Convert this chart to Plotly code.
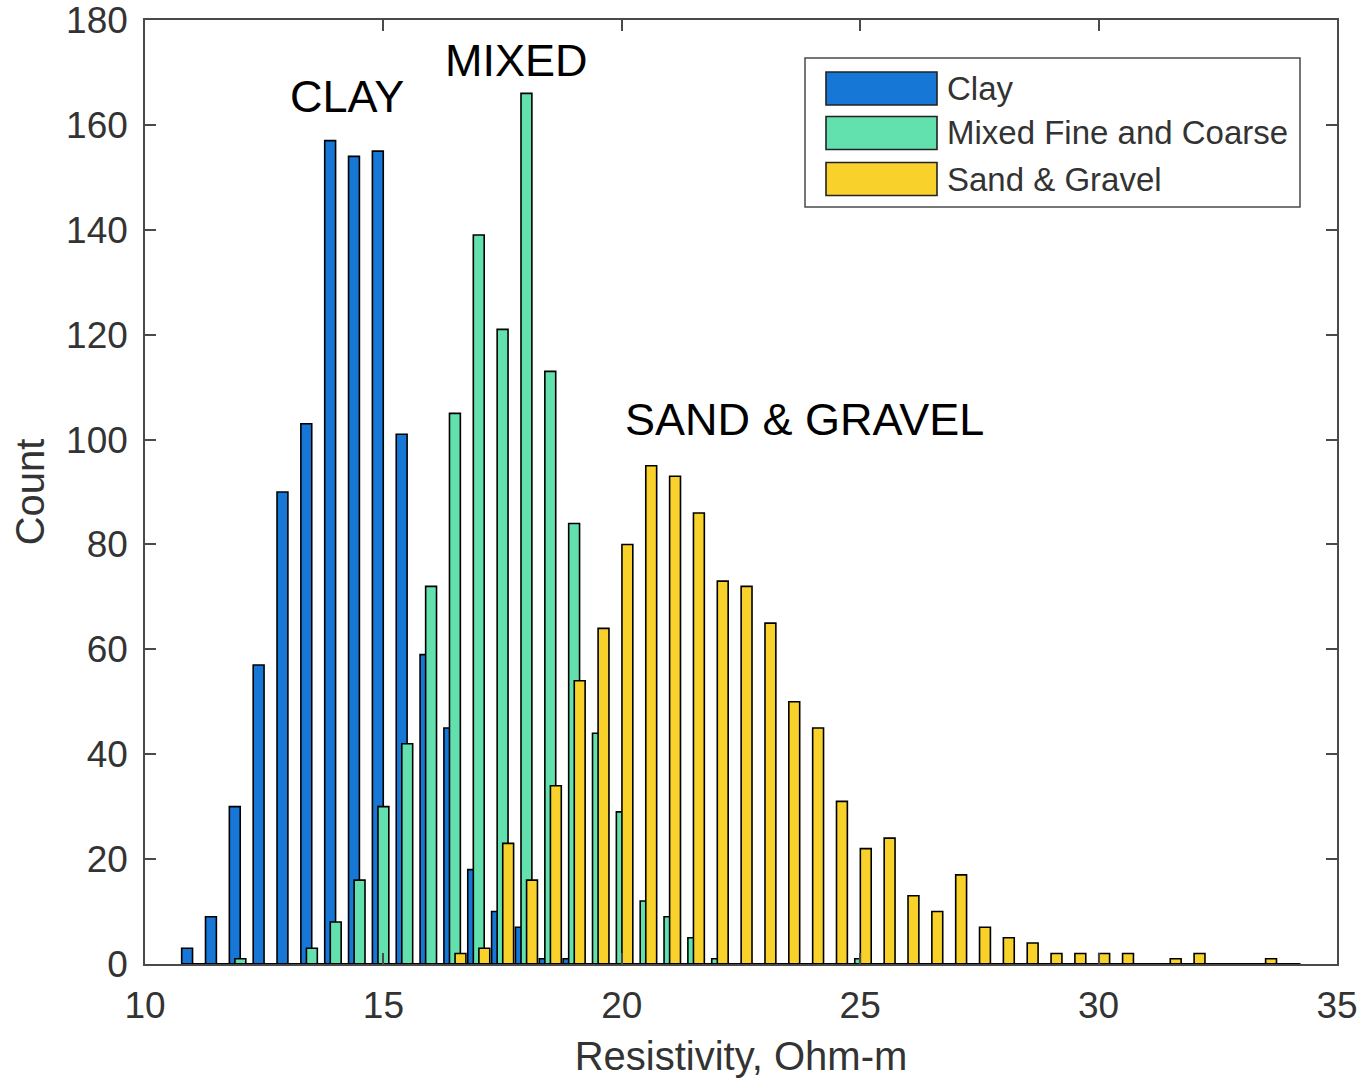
import plotly.graph_objects as go

# ---------------- data ----------------
bin_centers = [11.0, 11.5, 12.0, 12.5, 13.0, 13.5, 14.0, 14.5, 15.0, 15.5,
               16.0, 16.5, 17.0, 17.5, 18.0, 18.5, 19.0, 19.5, 20.0, 20.5,
               21.0, 21.5, 22.0, 22.5, 23.0, 23.5, 24.0, 24.5, 25.0, 25.5,
               26.0, 26.5, 27.0, 27.5, 28.0, 28.5, 29.0, 29.5, 30.0, 30.5,
               31.0, 31.5, 32.0, 32.5, 33.0, 33.5, 34.0]

clay_counts = [3, 9, 30, 57, 90, 103, 157, 154, 155, 101,
               59, 45, 18, 10, 7, 1, 1, 0, 0, 0,
               0, 0, 0, 0, 0, 0, 0, 0, 0, 0,
               0, 0, 0, 0, 0, 0, 0, 0, 0, 0,
               0, 0, 0, 0, 0, 0, 0]

mixed_counts = [0, 0, 1, 0, 0, 3, 8, 16, 30, 42,
                72, 105, 139, 121, 166, 113, 84, 44, 29, 12,
                9, 5, 1, 0, 0, 0, 0, 0, 1, 0,
                0, 0, 0, 0, 0, 0, 0, 0, 0, 0,
                0, 0, 0, 0, 0, 0, 0]

sand_counts = [0, 0, 0, 0, 0, 0, 0, 0, 0, 0,
               0, 2, 3, 23, 16, 34, 54, 64, 80, 95,
               93, 86, 73, 72, 65, 50, 45, 31, 22, 24,
               13, 10, 17, 7, 5, 4, 2, 2, 2, 2,
               0, 1, 2, 0, 0, 1, 0]

series_names = ["Clay", "Mixed Fine and Coarse", "Sand & Gravel"]
series_counts = [clay_counts, mixed_counts, sand_counts]

x_ticks = [10, 15, 20, 25, 30, 35]
y_ticks = [0, 20, 40, 60, 80, 100, 120, 140, 160, 180]

region_labels = ["CLAY", "MIXED", "SAND & GRAVEL"]

x_title = "Resistivity, Ohm-m"
y_title = "Count"

# ---------------- style ----------------
series_colors = ["#1677d6", "#62e0ad", "#f8d22b"]
series_shift = [-0.117, 0.0, 0.117]
bar_width = 0.228
region_label_pos = [(14.24, 165.5), (17.80, 172.2), (23.84, 103.9)]

FONT = "Liberation Sans, Arial, Helvetica, sans-serif"
AX = "#4a4a4a"
TXT = "#333333"

W, H = 1363, 1081
PL, PR, PT, PB = 145, 1337, 20, 964   # plot area in pixels


def px_x(p):
    return (p - PL) / (PR - PL)


def px_y(p):
    return (PB - p) / (PB - PT)


fig = go.Figure()

# baseline of zero-height bars (MATLAB draws their edges)
x_lo = bin_centers[0] + series_shift[0] - bar_width / 2
x_hi = bin_centers[-1] + series_shift[-1] + bar_width / 2
fig.add_trace(go.Scatter(x=[x_lo, x_hi], y=[0, 0], mode="lines",
                         line=dict(color="black", width=2),
                         showlegend=False, hoverinfo="skip"))

for name, counts, color, shift in zip(series_names, series_counts,
                                      series_colors, series_shift):
    fig.add_trace(go.Bar(
        x=bin_centers, y=counts, name=name,
        width=bar_width, offset=shift - bar_width / 2,
        marker=dict(color=color, line=dict(color="black", width=1.6)),
        showlegend=False,
    ))

# region labels
for text, (lx, ly) in zip(region_labels, region_label_pos):
    fig.add_annotation(x=lx, y=ly, xref="x", yref="y", text=text,
                       showarrow=False, xanchor="center", yanchor="middle",
                       font=dict(family=FONT, size=45, color="black"))

# manual legend (MATLAB style, wide swatches)
shapes = [dict(type="rect", xref="paper", yref="paper",
               x0=px_x(805), x1=px_x(1300), y0=px_y(207), y1=px_y(58),
               line=dict(color=AX, width=1.5), fillcolor="white",
               layer="above")]
row_centers = [88.5, 133, 179]
for name, color, rc in zip(series_names, series_colors, row_centers):
    shapes.append(dict(type="rect", xref="paper", yref="paper",
                       x0=px_x(826), x1=px_x(937),
                       y0=px_y(rc + 16.5), y1=px_y(rc - 16.5),
                       line=dict(color="#222222", width=1.6),
                       fillcolor=color, layer="above"))
    fig.add_annotation(x=px_x(945), y=px_y(rc), xref="paper", yref="paper",
                       text=name, showarrow=False, xanchor="left",
                       yanchor="middle",
                       font=dict(family=FONT, size=33, color=TXT))

fig.update_layout(
    width=W, height=H,
    margin=dict(l=PL, r=W - PR, t=PT, b=H - PB, pad=0, autoexpand=False),
    paper_bgcolor="white", plot_bgcolor="white",
    barmode="overlay",
    shapes=shapes,
    font=dict(family=FONT, color=TXT),
    xaxis=dict(range=[10, 35], tickvals=x_ticks, ticks="inside", ticklen=11,
               tickwidth=1.5, tickcolor=AX, showline=True, linecolor=AX,
               linewidth=1.5, mirror="ticks", showgrid=False, zeroline=False,
               automargin=False, ticklabeloverflow="allow",
               tickfont=dict(size=37, color=TXT, family=FONT),
               ticklabelstandoff=8,
               title=dict(text=x_title, font=dict(size=40, color=TXT, family=FONT),
                          standoff=17)),
    yaxis=dict(range=[0, 180], tickvals=y_ticks, ticks="inside", ticklen=11,
               tickwidth=1.5, tickcolor=AX, showline=True, linecolor=AX,
               linewidth=1.5, mirror="ticks", showgrid=False, zeroline=False,
               automargin=False, ticklabeloverflow="allow",
               tickfont=dict(size=37, color=TXT, family=FONT),
               ticklabelstandoff=8,
               title=dict(text=y_title, font=dict(size=40, color=TXT, family=FONT),
                          standoff=9)),
)

fig.write_html("out.html",
               config={"displayModeBar": False},
               post_script="document.body.style.margin='0';"
                           "document.body.style.overflow='hidden';")
